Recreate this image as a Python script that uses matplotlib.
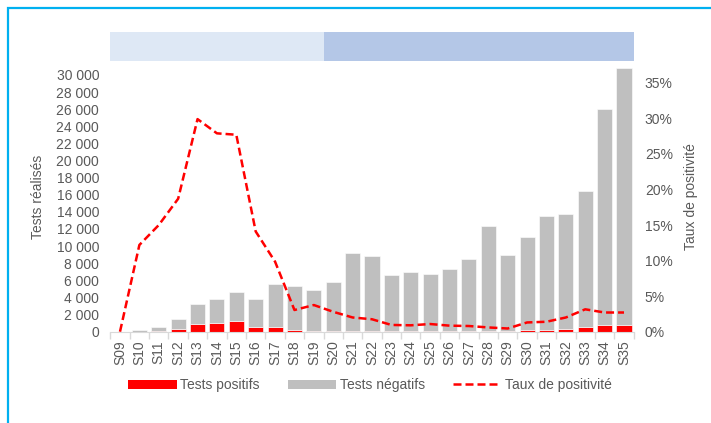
import matplotlib
matplotlib.use("Agg")
import matplotlib.pyplot as plt
import numpy as np
from matplotlib.patches import Patch, Rectangle
from matplotlib.lines import Line2D
from matplotlib.ticker import FuncFormatter, FixedLocator

plt.rcParams['font.family'] = ['Liberation Sans', 'DejaVu Sans']

weeks = ["S09", "S10", "S11", "S12", "S13", "S14", "S15", "S16", "S17", "S18",
         "S19", "S20", "S21", "S22", "S23", "S24", "S25", "S26", "S27", "S28",
         "S29", "S30", "S31", "S32", "S33", "S34", "S35"]
positifs = [0, 20, 60, 300, 950, 1050, 1280, 500, 500, 150,
            120, 100, 100, 100, 50, 50, 50, 50, 50, 50,
            40, 150, 150, 300, 550, 750, 820]
totaux = [0, 150, 500, 1500, 3200, 3800, 4600, 3800, 5600, 5300,
          4850, 5800, 9200, 8850, 6600, 6950, 6700, 7300, 8500, 12400,
          9000, 11050, 13500, 13800, 16400, 26000, 30850]
taux = [0.0, 12.2, 15.0, 18.7, 29.9, 27.9, 27.7, 14.1, 9.85, 3.05,
        3.75, 2.8, 2.0, 1.75, 0.95, 0.9, 1.08, 0.85, 0.8, 0.6,
        0.45, 1.3, 1.4, 2.0, 3.15, 2.7, 2.7]
left_ticks = list(range(0, 30001, 2000))
right_ticks = [0, 5, 10, 15, 20, 25, 30, 35]
phase_split = 10.5

negatifs = [t - p for t, p in zip(totaux, positifs)]

W, H = 711, 423
fig = plt.figure(figsize=(W / 100, H / 100), dpi=100)
txt = '#595959'
red = '#FF0000'
gray = '#BFBFBF'

# border
fig.patches.append(Rectangle((8 / W, -0.1), 1.2, (H - 8) / H + 0.1, transform=fig.transFigure,
                             fill=False, edgecolor='#00B0F0', linewidth=1.6))

x0, x1 = 110.3, 633.7
ybot, ytop = 331.7, 62.0
ax = fig.add_axes([x0 / W, (H - ybot) / H, (x1 - x0) / W, (ybot - ytop) / H])
x = np.arange(len(weeks))
bw = 0.78
ax.bar(x, positifs, bw, color=red, edgecolor='white', linewidth=0.4, zorder=2)
ax.bar(x, negatifs, bw, bottom=positifs, color=gray, edgecolor='white', linewidth=0.4, zorder=2)
ax.set_xlim(-0.5, len(weeks) - 0.5)
ymax = (ybot - ytop) / 8.56 * 1000
ax.set_ylim(0, ymax)
ax.set_yticks(left_ticks)
ax.yaxis.set_major_formatter(FuncFormatter(lambda v, p: f"{int(v):,}".replace(",", " ")))
ax.set_xticks(x)
ax.set_xticklabels(weeks, rotation=90)
ax.xaxis.set_minor_locator(FixedLocator(np.arange(-0.5, len(weeks), 1.0)))
ax.tick_params(axis='x', which='major', length=0, pad=6, colors=txt, labelsize=10)
ax.tick_params(axis='x', which='minor', length=5, color='#D9D9D9', width=1)
ax.tick_params(axis='y', length=0, colors=txt, labelsize=10, pad=8)
for s in ['top', 'right', 'left']:
    ax.spines[s].set_visible(False)
ax.spines['bottom'].set_color('#D9D9D9')
ax.set_ylabel("Tests réalisés", color=txt, fontsize=10, labelpad=8)

ax2 = ax.twinx()
ax2.plot(x, taux, color=red, linewidth=1.8, dashes=(3.2, 1.6), zorder=3)
ax2.set_ylim(0, (ybot - ytop) / 7.11)
ax2.set_yticks(right_ticks)
ax2.yaxis.set_major_formatter(FuncFormatter(lambda v, p: f"{int(v)}%"))
ax2.tick_params(axis='y', length=0, colors=txt, labelsize=10, pad=8)
for s in ['top', 'right', 'left', 'bottom']:
    ax2.spines[s].set_visible(False)
ax2.set_ylabel("Taux de positivité", color=txt, fontsize=10, labelpad=8)

# phase band
bt, bb = 32, 61
axb = fig.add_axes([x0 / W, (H - bb) / H, (x1 - x0) / W, (bb - bt) / H])
axb.set_xlim(-0.5, len(weeks) - 0.5)
axb.axvspan(-0.5, phase_split, color='#DEE8F5', lw=0)
axb.axvspan(phase_split, len(weeks) - 0.5, color='#B4C7E7', lw=0)
axb.axis('off')

handles = [Patch(facecolor=red, edgecolor='none'),
           Patch(facecolor=gray, edgecolor='none'),
           Line2D([0], [0], color=red, linewidth=1.8, dashes=(3.2, 1.6))]
labels = ["Tests positifs", "Tests négatifs", "Taux de positivité"]
leg = fig.legend(handles, labels, loc='center', bbox_to_anchor=(370 / W, (H - 385) / H),
                 ncol=3, frameon=False, fontsize=10, handlelength=3.5, handleheight=0.6,
                 handletextpad=0.25, columnspacing=2.0)
for t in leg.get_texts():
    t.set_color(txt)

fig.savefig("out.png", dpi=100)
